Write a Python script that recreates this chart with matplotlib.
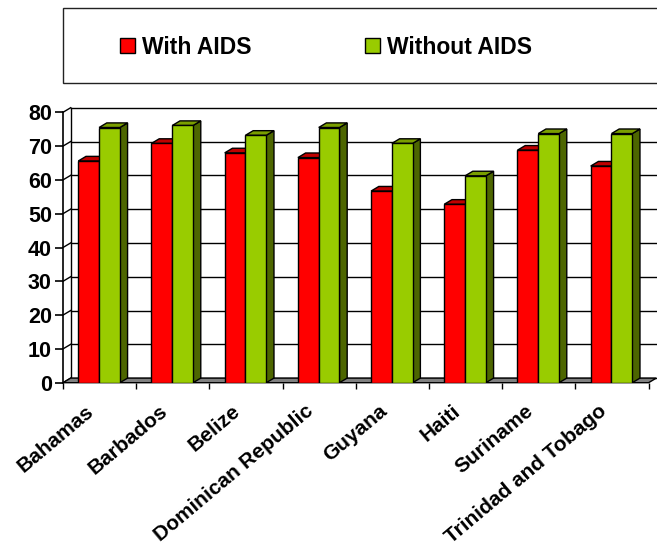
import numpy as np
import matplotlib
matplotlib.use('agg')
import matplotlib.pyplot as plt
import matplotlib.transforms as mtransforms
from matplotlib.patches import Rectangle

# life expectancy
countries = ['Bahamas', 'Barbados', 'Belize', 'Dominican Republic',
             'Guyana', 'Haiti', 'Suriname', 'Trinidad and Tobago']
with_aids = [65.6, 70.8, 68.0, 66.6, 56.7, 52.8, 68.8, 64.1]
without_aids = [75.5, 76.1, 73.2, 75.5, 70.8, 61.2, 73.7, 73.7]
series_names = ['With AIDS', 'Without AIDS']
yticks = list(range(0, 81, 10))

plt.rcParams['font.family'] = ['Liberation Sans', 'DejaVu Sans']
plt.rcParams['font.weight'] = 'bold'

fig = plt.figure(figsize=[6.57, 5.48], dpi=100)
px_cat = 73.2
px_val = 3.38
ddx = 7.7 / px_cat   # depth shift, category units
ddy = 4.6 / px_val   # depth shift, value units
ncat = len(countries)
ax = fig.add_axes([63 / 657, (548 - 382.7) / 548,
                   (ncat + ddx) * px_cat / 657, (80 + ddy) * px_val / 548])
ax.set_xlim(0, ncat + ddx)
ax.set_ylim(0, 80 + ddy)
for s in ax.spines.values():
    s.set_visible(False)
ax.patch.set_visible(False)

lw = 1.0
# floor
ax.fill([0, ncat, ncat + ddx, ddx], [0, 0, ddy, ddy], facecolor='#808080',
        edgecolor='black', linewidth=lw, zorder=1, clip_on=False)
# back wall + side wall gridlines
for v in yticks:
    ax.plot([ddx, ncat + ddx], [v + ddy, v + ddy], color='black', lw=lw, zorder=0.5, clip_on=False)
    ax.plot([0, ddx], [v, v + ddy], color='black', lw=lw, zorder=0.5, clip_on=False)
ax.plot([ddx, ddx], [ddy, 80 + ddy], color='black', lw=lw, zorder=0.5, clip_on=False)
ax.plot([0, 0], [0, 80], color='black', lw=1.2, zorder=0.6, clip_on=False)

bar_w = 0.284
first = 0.209
styles = [('#FF0000', '#C00000', '#990000'), ('#99CC00', '#7A9E00', '#4D6600')]
handles = []
for k, vals in enumerate([with_aids, without_aids]):
    front, top, side = styles[k]
    lefts = np.arange(ncat) + first + k * bar_w
    z = 2 + k
    for l, v in zip(lefts, vals):
        ax.fill([l + bar_w, l + bar_w + ddx, l + bar_w + ddx, l + bar_w],
                [0, ddy, v + ddy, v], facecolor=side, edgecolor='black', lw=lw, zorder=z)
        ax.fill([l, l + bar_w, l + bar_w + ddx, l + ddx],
                [v, v, v + ddy, v + ddy], facecolor=top, edgecolor='black', lw=lw, zorder=z)
    bars = ax.bar(lefts, vals, width=bar_w, align='edge', color=front,
                  edgecolor='black', linewidth=lw, zorder=z + 0.5, label=series_names[k])
    handles.append(bars)

# axes ticks
ax.set_yticks(yticks)
ax.set_yticklabels([str(v) for v in yticks], fontsize=15.5, fontweight='bold')
ax.yaxis.set_tick_params(length=6, width=1.2, pad=2, direction='out')
ax.set_xticks(np.arange(ncat + 1))
ax.set_xticklabels([])
ax.xaxis.set_tick_params(length=4.5, width=1.0, direction='out')

off = mtransforms.ScaledTranslation(-0.14, -0.19, fig.dpi_scale_trans)
for i, name in enumerate(countries):
    ax.text(i + 0.5, 0, name, transform=ax.transData + off, rotation=40,
            ha='right', va='top', rotation_mode='anchor',
            fontsize=15, fontweight='bold')

# legend box
fig.patches.append(Rectangle((63 / 657, 1 - 83 / 548), 600 / 657, 75 / 548,
                             transform=fig.transFigure, facecolor='white',
                             edgecolor='#222222', linewidth=1.0))
fig.legend(handles=handles, labels=series_names, ncol=2, frameon=False,
           loc='center left', bbox_to_anchor=(120 / 657, 1 - 47 / 548),
           prop={'size': 16.5, 'weight': 'bold'}, handlelength=0.655, handleheight=0.655,
           handletextpad=0.3, columnspacing=4.95, borderpad=0, borderaxespad=0)

plt.savefig('out.png', dpi=100)
plt.close()
